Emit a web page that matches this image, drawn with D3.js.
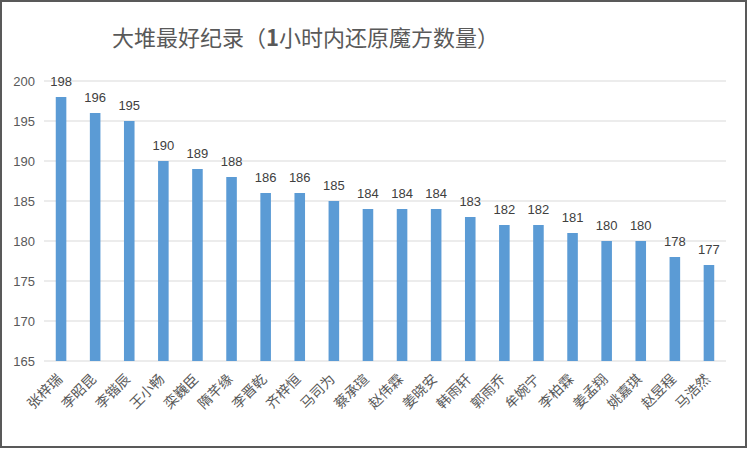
<!DOCTYPE html>
<html>
<head>
<meta charset="utf-8">
<script src="https://cdn.jsdelivr.net/npm/d3@7"></script>
<style>
  html, body { margin: 0; padding: 0; background: #fff; }
  svg { display: block; }
</style>
</head>
<body>
<div id="chart"></div>
<script>
const names = ["张梓瑞", "李昭昆", "李锴辰", "王小畅", "栾巍臣", "隋芊缘", "李晋乾", "齐梓恒", "马司为", "蔡承瑄",
  "赵伟霖", "姜晓安", "韩雨轩", "郭雨乔", "牟婉宁", "李柏霖", "姜孟翔", "姚嘉琪", "赵昱程", "马浩然"];
const counts = [198, 196, 195, 190, 189, 188, 186, 186, 185, 184, 184, 184, 183, 182, 182, 181, 180, 180, 178, 177];
const yTicks = [165, 170, 175, 180, 185, 190, 195, 200];
const titleParts = ["大堆最好纪录（", "1", "小时内还原魔方数量）"];

const width = 750, height = 449;
const margin = { top: 81, right: 24, bottom: 88, left: 44 };
const innerW = width - margin.left - margin.right;
const innerH = height - margin.top - margin.bottom;

const svg = d3.select("#chart").append("svg")
  .attr("width", width)
  .attr("height", height);

// outer frame
svg.append("rect")
  .attr("x", 1).attr("y", 1)
  .attr("width", 745).attr("height", 446)
  .attr("fill", "#fff")
  .attr("stroke", "#595959")
  .attr("stroke-width", 2);

const titleText = svg.append("text")
  .attr("x", 112).attr("y", 46)
  .attr("font-family", "'Noto Sans CJK SC', sans-serif")
  .attr("font-size", "22px")
  .attr("fill", "#595959");
titleText.selectAll("tspan")
  .data(titleParts)
  .join("tspan")
  .attr("font-weight", (d, i) => i === 1 ? "bold" : "normal")
  .text(d => d);

const g = svg.append("g").attr("transform", `translate(${margin.left},${margin.top})`);

const x = d3.scaleBand().domain(names).range([0, innerW]).paddingInner(0.69).paddingOuter(0.345);
const y = d3.scaleLinear().domain([165, 200]).range([innerH, 0]);

// gridlines
g.append("g")
  .selectAll("line")
  .data(yTicks)
  .join("line")
  .attr("x1", 0).attr("x2", innerW)
  .attr("y1", d => y(d)).attr("y2", d => y(d))
  .attr("stroke", "#d9d9d9")
  .attr("stroke-width", 1);

// y axis labels
const yAxis = g.append("g")
  .call(d3.axisLeft(y).tickValues(yTicks).tickSize(0).tickPadding(9));
yAxis.select(".domain").remove();
yAxis.selectAll("text")
  .attr("font-family", "'Liberation Sans', Arial, sans-serif")
  .attr("font-size", "13px")
  .attr("fill", "#595959");

// bars
g.append("g")
  .selectAll("rect")
  .data(counts)
  .join("rect")
  .attr("x", (d, i) => x(names[i]))
  .attr("y", d => y(d))
  .attr("width", x.bandwidth())
  .attr("height", d => innerH - y(d))
  .attr("fill", "#5b9bd5");

// value labels
g.append("g")
  .selectAll("text")
  .data(counts)
  .join("text")
  .attr("x", (d, i) => x(names[i]) + x.bandwidth() / 2)
  .attr("y", d => y(d) - 11)
  .attr("text-anchor", "middle")
  .attr("font-family", "'Liberation Sans', Arial, sans-serif")
  .attr("font-size", "13px")
  .attr("fill", "#404040")
  .text(d => d);

// x axis labels, rotated
const xAxis = g.append("g")
  .attr("transform", `translate(0,${innerH})`)
  .call(d3.axisBottom(x).tickSize(0).tickPadding(0));
xAxis.select(".domain").remove();
xAxis.selectAll("text")
  .attr("font-family", "'Noto Sans CJK SC', sans-serif")
  .attr("font-size", "14px")
  .attr("fill", "#595959")
  .attr("text-anchor", "end")
  .attr("dy", "0")
  .attr("transform", "translate(2,19) rotate(-45)");
</script>
</body>
</html>
